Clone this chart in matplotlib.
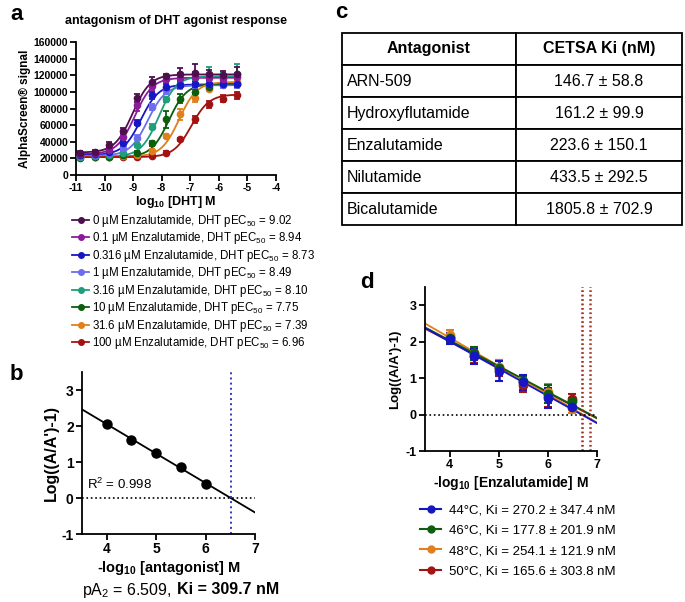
import numpy as np
import matplotlib
matplotlib.use('Agg')
import matplotlib.pyplot as plt
from matplotlib.lines import Line2D

plt.rcParams['font.family'] = ['Liberation Sans', 'DejaVu Sans']
plt.rcParams['mathtext.fontset'] = 'custom'
plt.rcParams['mathtext.rm'] = 'Liberation Sans'
plt.rcParams['mathtext.it'] = 'Liberation Sans:italic'
plt.rcParams['mathtext.bf'] = 'Liberation Sans:bold'
plt.rcParams['axes.linewidth'] = 1.3
plt.rcParams['axes.unicode_minus'] = False

# ---- panel a: DHT dose response at different enzalutamide concentrations
log_dht = [-10.85, -10.35, -9.85, -9.35, -8.85, -8.35, -7.85, -7.35, -6.85, -6.35, -5.85, -5.35]
enz_conc = ['0', '0.1', '0.316', '1', '3.16', '10', '31.6', '100']
pec50 = [9.02, 8.94, 8.73, 8.49, 8.10, 7.75, 7.39, 6.96]
bottoms = [27000, 25000, 24000, 23000, 22000, 21500, 22000, 21500]
tops = [121000, 117000, 109000, 108000, 119000, 110000, 112000, 97000]
hill = 1.4

sig_0 = [27000, 28000, 36000, 53000, 93000, 112000, 119000, 121000, 123000, 121000, 120000, 122000]
sig_01 = [25000, 26000, 30000, 46000, 84000, 107000, 115000, 117000, 118000, 117000, 116000, 118000]
sig_0316 = [24000, 25000, 28000, 38000, 63000, 96000, 106000, 108000, 110000, 110000, 110000, 110000]
sig_1 = [23000, 24000, 26000, 32000, 45000, 82000, 102000, 108000, 109000, 109000, 108000, 109000]
sig_316 = [22000, 23000, 24000, 27000, 36000, 58000, 91000, 110000, 117000, 120000, 118000, 121000]
sig_10 = [21000, 22000, 22000, 24000, 27000, 38000, 67000, 92000, 100000, 106000, 109000, 110000]
sig_316b = [22000, 22000, 22000, 23000, 24000, 29000, 47000, 73000, 93000, 104000, 110000, 112000]
sig_100 = [21500, 21500, 22000, 21500, 22000, 23000, 27000, 43000, 67000, 85000, 92000, 96000]

err_0 = [2000, 2000, 4000, 3000, 5000, 6000, 3000, 8000, 10000, 5000, 5000, 8000]
err_01 = [2000, 2000, 3000, 3000, 7000, 5000, 3000, 6000, 6000, 5000, 4000, 5000]
err_0316 = [2000, 2000, 2000, 3000, 3000, 4000, 4000, 3000, 4000, 4000, 3000, 4000]
err_1 = [2000, 2000, 2000, 2000, 3000, 4000, 4000, 4000, 4000, 4000, 3000, 4000]
err_316 = [2000, 2000, 2000, 2000, 2000, 3000, 3000, 3000, 4000, 10000, 5000, 13000]
err_10 = [2000, 2000, 2000, 2000, 2000, 3000, 10000, 5000, 3000, 3000, 3000, 4000]
err_316b = [1500, 1500, 1500, 1500, 1500, 2000, 2000, 7000, 5000, 3000, 3000, 3000]
err_100 = [1500, 1500, 1500, 1500, 1500, 1500, 1500, 1500, 4000, 4000, 4000, 4000]

signals = [sig_0, sig_01, sig_0316, sig_1, sig_316, sig_10, sig_316b, sig_100]
errors = [err_0, err_01, err_0316, err_1, err_316, err_10, err_316b, err_100]
colors_a = ['#4f0f4f', '#8a1c9a', '#1616c4', '#6c6cef', '#1f9e7a', '#0c5e0c', '#e0801c', '#a31212']

# ---- panel b: Schild plot
b_x = [4.0, 4.5, 5.0, 5.5, 6.0]
b_y = [2.05, 1.62, 1.25, 0.87, 0.38]

# ---- panel c: table
antagonists = ['ARN-509', 'Hydroxyflutamide', 'Enzalutamide', 'Nilutamide', 'Bicalutamide']
cetsa_ki = ['146.7 ± 58.8', '161.2 ± 99.9', '223.6 ± 150.1', '433.5 ± 292.5', '1805.8 ± 702.9']

# ---- panel d: CETSA Schild plots
d_x = [4.0, 4.5, 5.0, 5.5, 6.0, 6.5]
d_temps = ['44°C, Ki = 270.2 ± 347.4 nM', '46°C, Ki = 177.8 ± 201.9 nM',
           '48°C, Ki = 254.1 ± 121.9 nM', '50°C, Ki = 165.6 ± 303.8 nM']
d_44 = [2.08, 1.60, 1.20, 0.88, 0.45, 0.22]
d_46 = [2.10, 1.68, 1.28, 0.92, 0.56, 0.36]
d_48 = [2.18, 1.68, 1.30, 0.88, 0.62, 0.18]
d_50 = [2.12, 1.62, 1.28, 0.82, 0.50, 0.42]
e_44 = [0.15, 0.20, 0.28, 0.20, 0.28, 0.08]
e_46 = [0.12, 0.18, 0.20, 0.15, 0.25, 0.10]
e_48 = [0.15, 0.18, 0.20, 0.15, 0.22, 0.15]
e_50 = [0.12, 0.20, 0.22, 0.20, 0.30, 0.15]
colors_d = ['#1616c4', '#0d5e0d', '#e0801c', '#a31515']

W, H = 685, 602
fig = plt.figure(figsize=(W / 100, H / 100), dpi=100)


def box(l, t, r, b):
    return [l / W, 1 - b / H, (r - l) / W, (b - t) / H]


def style(ax, size, pad=2):
    ax.spines['top'].set_visible(False)
    ax.spines['right'].set_visible(False)
    ax.tick_params(direction='out', length=4, width=1.3, labelsize=size, pad=pad)
    for lab in ax.get_xticklabels() + ax.get_yticklabels():
        lab.set_fontweight('bold')


# panel a
ax = fig.add_axes(box(76, 42, 276, 175))
xx = np.linspace(-10.9, -5.3, 300)
handles = []
for i in reversed(range(8)):
    c = colors_a[i]
    curve = bottoms[i] + (tops[i] - bottoms[i]) / (1 + 10 ** (hill * (-pec50[i] - xx)))
    ax.plot(xx, curve, color=c, lw=1.3, zorder=2 + i * 0.01)
    ax.errorbar(log_dht, signals[i], yerr=errors[i], fmt='o', color=c, ms=4.5,
                capsize=2.5, elinewidth=1.3, capthick=1.3, zorder=3)
for i in range(8):
    handles.append(Line2D([], [], color=colors_a[i], marker='o', ms=4, lw=1.3,
                          label=enz_conc[i] + ' \u00b5M Enzalutamide, DHT pEC$_{50}$ = %.2f' % pec50[i]))
ax.set_xlim(-11, -4)
ax.set_ylim(0, 160000)
ax.set_xticks(range(-11, -3))
ax.set_yticks(range(0, 160001, 20000))
style(ax, 7.5, pad=1.5)
ax.set_xlabel(r'log$_{\mathbf{10}}$ [DHT] M', fontsize=9, fontweight='bold', labelpad=1)
ax.set_ylabel('AlphaScreen® signal', fontsize=8.5, fontweight='bold', labelpad=2)
ax.set_title('antagonism of DHT agonist response', fontsize=9, fontweight='bold', pad=13)
fig.legend(handles=handles, loc='upper left', bbox_to_anchor=(72 / W, 1 - 213 / H),
           frameon=False, fontsize=8.3, handlelength=1.5, handletextpad=0.25,
           labelspacing=0.13, borderaxespad=0, borderpad=0)

# panel b
ax = fig.add_axes(box(82, 372, 255, 534))
slope, icpt = np.polyfit(b_x, b_y, 1)
x0 = -icpt / slope
xl = np.array([3.5, 7.0])
ax.plot(xl, slope * xl + icpt, color='black', lw=1.3)
ax.plot(b_x, b_y, 'o', color='black', ms=6.5)
ax.axhline(0, color='black', ls=':', lw=1.2)
ax.axvline(x0, color='#3535c0', ls=':', lw=1.4)
ax.text(3.6, 0.25, r'R$^2$ = 0.998', fontsize=9.5)
ax.set_xlim(3.5, 7)
ax.set_ylim(-1, 3.5)
ax.set_xticks([4, 5, 6, 7])
ax.set_yticks([-1, 0, 1, 2, 3])
style(ax, 10)
ax.set_xlabel(r'-log$_{\mathbf{10}}$ [antagonist] M', fontsize=10.5, fontweight='bold', labelpad=2)
ax.set_ylabel("Log((A/A')-1)", fontsize=11.5, fontweight='bold', labelpad=2)
t1 = fig.text(82 / W, 1 - 590 / H, r'pA$_2$ = 6.509,', fontsize=11.5, va='center')
ax.annotate('Ki = 309.7 nM', xy=(1, 0.5), xycoords=t1, xytext=(3.5, 0),
            textcoords='offset points', va='center', ha='left',
            fontsize=11.5, fontweight='bold', annotation_clip=False)

# panel c
ax = fig.add_axes(box(342, 33, 682, 225))
ax.axis('off')
tab = ax.table(cellText=[[a, k] for a, k in zip(antagonists, cetsa_ki)],
               colLabels=['Antagonist', 'CETSA Ki (nM)'], bbox=[0, 0, 1, 1],
               colWidths=[174 / 340, 166 / 340], cellLoc='center')
tab.auto_set_font_size(False)
for (r, c), cell in tab.get_celld().items():
    cell.set_linewidth(1.3)
    cell.get_text().set_fontsize(11.5)
    if r == 0:
        cell.get_text().set_fontweight('bold')
    elif c == 0:
        cell.get_text().set_ha('left')
        cell.PAD = 0.03

# panel d
ax = fig.add_axes(box(425, 287, 597, 451))
d_vals = [d_44, d_46, d_48, d_50]
d_errs = [e_44, e_46, e_48, e_50]
for i in [3, 2, 1, 0]:
    s, b = np.polyfit(d_x, d_vals[i], 1)
    ax.plot(xl, s * xl + b, color=colors_d[i], lw=1.3)
    ax.axvline(-b / s, color='#b0402a' if i % 2 else '#a33020', ls=':', lw=1.2)
for i in [3, 2, 1, 0]:
    ax.errorbar(d_x, d_vals[i], yerr=d_errs[i], fmt='o', color=colors_d[i], ms=6,
                capsize=3, elinewidth=1.8, capthick=1.5)
ax.axhline(0, color='black', ls=':', lw=1.2)
ax.set_xlim(3.5, 7)
ax.set_ylim(-1, 3.5)
ax.set_xticks([4, 5, 6, 7])
ax.set_yticks([-1, 0, 1, 2, 3])
style(ax, 9)
ax.set_xlabel(r'-log$_{\mathbf{10}}$ [Enzalutamide] M', fontsize=10, fontweight='bold', labelpad=2)
ax.set_ylabel("Log((A/A')-1)", fontsize=9.5, fontweight='bold', labelpad=3)
d_handles = [Line2D([], [], color=colors_d[i], marker='o', ms=5, lw=1.5, label=d_temps[i])
             for i in range(4)]
fig.legend(handles=d_handles, loc='upper left', bbox_to_anchor=(420 / W, 1 - 504 / H),
           frameon=False, fontsize=9.5, handlelength=1.6, handletextpad=0.6,
           labelspacing=0.62, borderaxespad=0, borderpad=0)

# panel letters
for letter, px, py in [('a', 10, 15), ('b', 10, 375), ('c', 335, 12), ('d', 360, 282)]:
    fig.text(px / W, 1 - py / H, letter, fontsize=16, fontweight='bold', va='center')

fig.savefig('out.png', dpi=100)
